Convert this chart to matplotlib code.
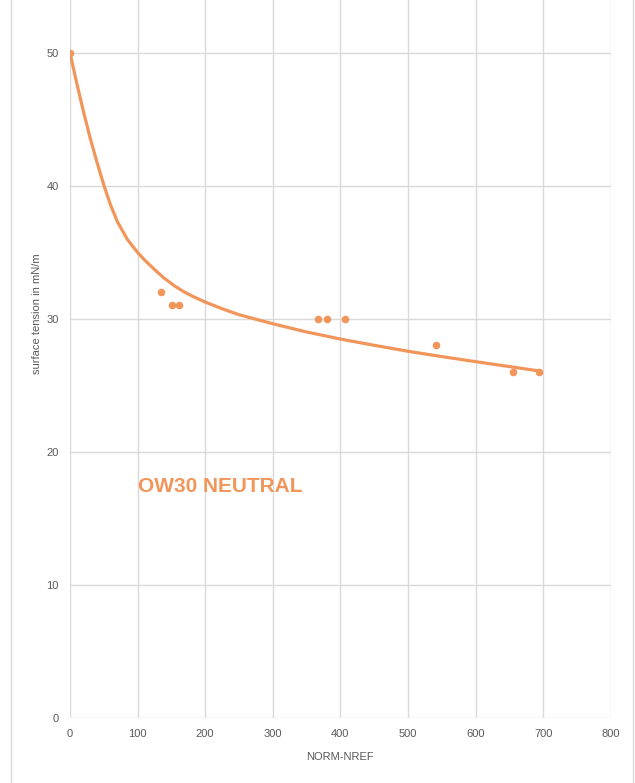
import matplotlib.pyplot as plt
from matplotlib.lines import Line2D

# measured points
norm_nref = [0, 135, 151, 162, 367, 380, 407, 541, 656, 694]
tension = [50, 32, 31, 31, 30, 30, 30, 28, 26, 26]

# trend line
trend_x = [0, 10, 20, 30, 40, 50, 60, 70, 85, 100, 110, 125, 138, 155, 170,
           185, 200, 225, 250, 300, 350, 400, 450, 500, 550, 600, 650, 694]
trend_y = [50, 47.7, 45.55, 43.55, 41.75, 40.05, 38.55, 37.3, 35.95, 34.98,
           34.43, 33.7, 33.1, 32.45, 31.98, 31.6, 31.25, 30.75, 30.3, 29.62,
           29.0, 28.47, 28.0, 27.55, 27.15, 26.77, 26.4, 26.07]

x_ticks = [0, 100, 200, 300, 400, 500, 600, 700, 800]
y_ticks = [0, 10, 20, 30, 40, 50]

orange = '#F1955A'
grid_c = '#D9D9D9'
text_c = '#595959'

plt.rcParams['font.family'] = ['Liberation Sans', 'DejaVu Sans']

fig = plt.figure(figsize=(6.35, 7.83), dpi=100)
ax = fig.add_axes([70 / 635, 1 - 717.7 / 783, (610.7 - 70) / 635, 717.7 / 783])

ax.set_xlim(0, 800)
ax.set_ylim(0, 53.96)

# grid: vertical lines run up to the top edge, horizontal ones stop at 50
for xv in x_ticks:
    ax.axvline(xv, color=grid_c, linewidth=1, zorder=0)
for yv in y_ticks:
    ax.axhline(yv, color=grid_c, linewidth=1, zorder=0)

ax.plot(trend_x, trend_y, color=orange, linewidth=2.3, zorder=2,
        solid_joinstyle='round')
ax.scatter(norm_nref, tension, s=30, color=orange, zorder=3, linewidths=0)

ax.set_xticks(x_ticks)
ax.set_yticks(y_ticks)
ax.tick_params(length=0, labelsize=8, labelcolor=text_c, pad=8)
for side in ['top', 'right', 'left', 'bottom']:
    ax.spines[side].set_visible(False)

ax.text(100, 17.4, 'OW30 NEUTRAL', color=orange, fontsize=15,
        fontweight='bold', va='center', ha='left')

fig.text(37 / 635, 1 - 314 / 783, 'surface tension in mN/m', rotation=90,
         ha='center', va='center', fontsize=8, color=text_c)
fig.text(340 / 635, 1 - 757 / 783, 'NORM-NREF', ha='center', va='center',
         fontsize=8, color=text_c)

# chart area border pieces
fig.add_artist(Line2D([11 / 635, 11 / 635], [0, 1], color=grid_c, linewidth=1))
fig.add_artist(Line2D([633 / 635, 633 / 635], [0, 1], color=grid_c, linewidth=1))

fig.savefig('out.png', dpi=100)
